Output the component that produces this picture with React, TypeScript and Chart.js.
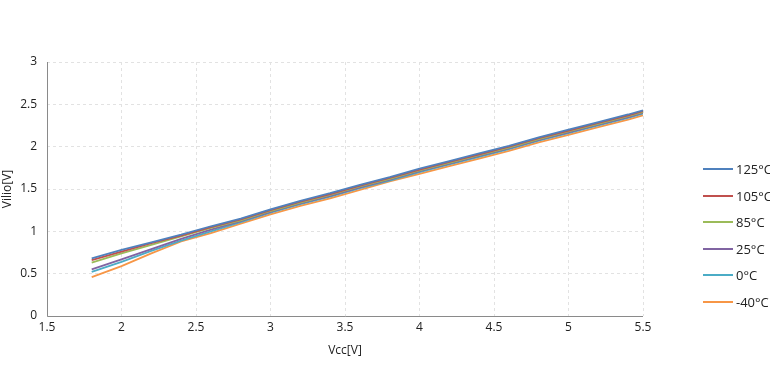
import React, { useEffect, useRef } from "react";
import { Chart, registerables } from "chart.js";

Chart.register(...registerables);

const vcc = [1.8, 2.0, 2.2, 2.4, 2.6, 2.8, 3.0, 3.2, 3.4, 3.6, 3.8, 4.0, 4.2, 4.4, 4.6, 4.8, 5.0, 5.2, 5.4, 5.5];

const t125 = [0.68, 0.78, 0.87, 0.96, 1.06, 1.15, 1.26, 1.36, 1.45, 1.55, 1.64, 1.74, 1.83, 1.92, 2.01, 2.11, 2.2, 2.29, 2.38, 2.43];
const t105 = [0.66, 0.76, 0.86, 0.95, 1.05, 1.14, 1.25, 1.35, 1.44, 1.54, 1.63, 1.73, 1.82, 1.91, 2.0, 2.1, 2.19, 2.28, 2.37, 2.42];
const t85 = [0.63, 0.74, 0.84, 0.94, 1.04, 1.13, 1.24, 1.34, 1.43, 1.53, 1.62, 1.72, 1.81, 1.9, 1.99, 2.09, 2.18, 2.27, 2.36, 2.41];
const t25 = [0.55, 0.67, 0.79, 0.91, 1.02, 1.12, 1.23, 1.33, 1.42, 1.52, 1.61, 1.71, 1.8, 1.89, 1.98, 2.08, 2.17, 2.26, 2.35, 2.4];
const t0 = [0.52, 0.64, 0.77, 0.89, 1.0, 1.11, 1.22, 1.32, 1.41, 1.51, 1.6, 1.7, 1.79, 1.88, 1.97, 2.07, 2.16, 2.25, 2.34, 2.39];
const tm40 = [0.46, 0.59, 0.74, 0.88, 0.98, 1.09, 1.2, 1.3, 1.39, 1.49, 1.59, 1.68, 1.77, 1.86, 1.95, 2.05, 2.14, 2.23, 2.32, 2.37];

const seriesNames = ["125°C", "105°C", "85°C", "25°C", "0°C", "-40°C"];
const seriesValues = [t125, t105, t85, t25, t0, tm40];
const seriesColors = ["#4F81BD", "#C0504D", "#9BBB59", "#8064A2", "#4BACC6", "#F79646"];

const FONT = "'Open Sans', 'DejaVu Sans', sans-serif";

const axisLines = {
  id: "axisLines",
  beforeDatasetsDraw(chart: any) {
    const { ctx, chartArea } = chart;
    ctx.save();
    ctx.strokeStyle = "#8a8a8a";
    ctx.lineWidth = 1;
    ctx.setLineDash([]);
    ctx.beginPath();
    ctx.moveTo(Math.round(chartArea.left) + 0.5, chartArea.top);
    ctx.lineTo(Math.round(chartArea.left) + 0.5, Math.round(chartArea.bottom) + 0.5);
    ctx.lineTo(chartArea.right, Math.round(chartArea.bottom) + 0.5);
    ctx.stroke();
    ctx.restore();
  },
};

const fmt = (v: any) => String(Number(v));

export default function App() {
  const ref = useRef<HTMLCanvasElement | null>(null);

  useEffect(() => {
    document.body.style.margin = "0";
    if (!ref.current) return;
    const chart = new Chart(ref.current, {
      type: "line",
      data: {
        datasets: seriesNames.map((name, i) => ({
          label: name,
          data: vcc.map((x, j) => ({ x, y: seriesValues[i][j] })),
          borderColor: seriesColors[i],
          backgroundColor: seriesColors[i],
          borderWidth: 1.8,
          pointRadius: 0,
          tension: 0,
          fill: false,
        })),
      },
      options: {
        responsive: false,
        animation: false,
        layout: { padding: { left: 0, top: 62, right: 127, bottom: 18 } },
        plugins: { legend: { display: false }, tooltip: { enabled: false } },
        scales: {
          x: {
            type: "linear",
            min: 1.5,
            max: 5.5,
            ticks: { stepSize: 0.5, color: "#222", font: { family: FONT, size: 12 }, padding: 4, maxRotation: 0, callback: fmt },
            grid: { color: "#e2e2e2", drawTicks: false },
            border: { display: false, dash: [3, 3] },
            title: { display: true, text: "Vcc[V]", color: "#222", font: { family: FONT, size: 12 }, padding: { top: 0, bottom: 0 } },
            afterFit: (s: any) => { s.height = 42; },
          },
          y: {
            min: 0,
            max: 3,
            ticks: { stepSize: 0.5, color: "#222", font: { family: FONT, size: 12 }, padding: 10, callback: fmt },
            grid: { color: "#e2e2e2", drawTicks: false },
            border: { display: false, dash: [3, 3] },
            title: { display: true, text: "Vilio[V]", color: "#222", font: { family: FONT, size: 12 }, padding: { top: 0, bottom: 0 } },
            afterFit: (s: any) => { s.width = 47; },
          },
        },
      },
      plugins: [axisLines],
    });
    return () => chart.destroy();
  }, []);

  return (
    <div style={{ position: "absolute", left: 0, top: 0, width: 770, height: 376, background: "#fff", overflow: "hidden" }}>
      <canvas ref={ref} width={770} height={376} style={{ position: "absolute", left: 0, top: 0 }} />
      {seriesNames.map((name, i) => (
        <div
          key={name}
          style={{ position: "absolute", left: 703, top: 169 + i * 26.5 - 9, height: 18, display: "flex", alignItems: "center", fontFamily: FONT, fontSize: 13, color: "#222", whiteSpace: "nowrap" }}
        >
          <span style={{ display: "inline-block", width: 30, height: 2, background: seriesColors[i], marginRight: 3 }} />
          <span>{name}</span>
        </div>
      ))}
    </div>
  );
}
